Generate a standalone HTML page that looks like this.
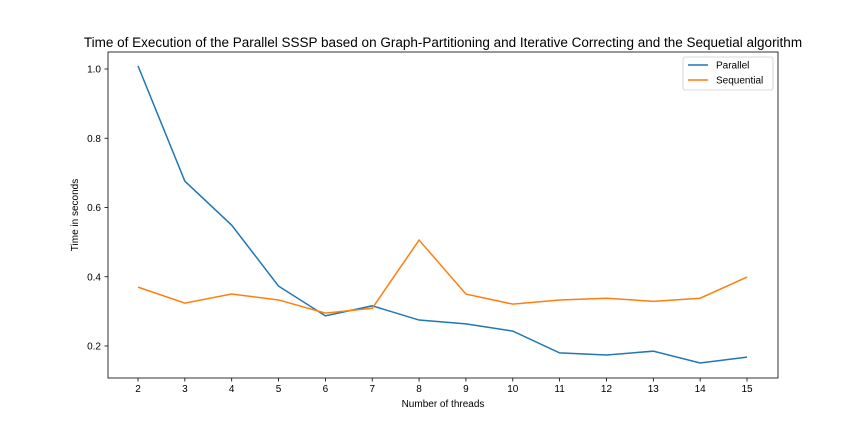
<!DOCTYPE html>
<html><head><meta charset="utf-8"><style>
html,body{margin:0;padding:0;background:#fff;}
svg{display:block;font-family:"Liberation Sans","DejaVu Sans",sans-serif;}
</style></head><body>
<svg id="chart" width="864" height="432" xmlns="http://www.w3.org/2000/svg">
<rect x="0" y="0" width="864" height="432" fill="#fff"/>
<text x="443" y="47" text-anchor="middle" font-size="13.5" fill="#000">Time of Execution of the Parallel SSSP based on Graph-Partitioning and Iterative Correcting and the Sequetial algorithm</text>
<g id="grid"></g>
<g id="series"></g>
<rect x="108" y="52" width="670" height="326" fill="none" stroke="#000" stroke-width="0.8"/>
<text x="443" y="407" text-anchor="middle" font-size="10">Number of threads</text>
<text transform="translate(78,215) rotate(-90)" text-anchor="middle" font-size="10">Time in seconds</text>
<g>
<rect x="683" y="57" width="90" height="33" fill="#fff" stroke="#ccc" stroke-width="0.8" rx="2"/>
<line x1="688" y1="65" x2="708" y2="65" stroke="#1f77b4" stroke-width="1.5"/>
<text x="716" y="68.5" font-size="10">Parallel</text>
<line x1="688" y1="80" x2="708" y2="80" stroke="#ff7f0e" stroke-width="1.5"/>
<text x="716" y="83.5" font-size="10">Sequential</text>
</g>
</svg>
<script>
const threads = [2,3,4,5,6,7,8,9,10,11,12,13,14,15];
const parallel = [1.009,0.676,0.549,0.373,0.287,0.316,0.275,0.264,0.243,0.180,0.174,0.185,0.151,0.168];
const sequential = [0.370,0.324,0.350,0.333,0.295,0.309,0.506,0.350,0.321,0.333,0.338,0.329,0.338,0.399];
const yTicks = [0.2,0.4,0.6,0.8,1.0];
const NS="http://www.w3.org/2000/svg";
function xs(v){return 138+(v-2)*(747-138)/13;}
function ys(v){return 69+(1.0-v)*346.25;}
const grid=document.getElementById('grid');
threads.forEach(t=>{
  const l=document.createElementNS(NS,'line');
  l.setAttribute('x1',xs(t));l.setAttribute('x2',xs(t));l.setAttribute('y1',378);l.setAttribute('y2',381.5);
  l.setAttribute('stroke','#000');l.setAttribute('stroke-width','0.8');
  
  
  grid.appendChild(l);
  const tx=document.createElementNS(NS,'text');
  tx.setAttribute('x',xs(t));tx.setAttribute('y',392);tx.setAttribute('text-anchor','middle');tx.setAttribute('font-size','10');
  tx.textContent=t;
  
  
  grid.appendChild(tx);
});
yTicks.forEach(v=>{
  const l=document.createElementNS(NS,'line');
  l.setAttribute('x1',104.5);l.setAttribute('x2',108);l.setAttribute('y1',ys(v));l.setAttribute('y2',ys(v));
  l.setAttribute('stroke','#000');l.setAttribute('stroke-width','0.8');
  
  
  grid.appendChild(l);
  const tx=document.createElementNS(NS,'text');
  tx.setAttribute('x',101);tx.setAttribute('y',ys(v)+3.5);tx.setAttribute('text-anchor','end');tx.setAttribute('font-size','10');
  tx.textContent=v.toFixed(1);
  
  
  grid.appendChild(tx);
});
const ser=document.getElementById('series');
function draw(vals,color,name){
  const p=document.createElementNS(NS,'polyline');
  p.setAttribute('points',threads.map((t,i)=>xs(t)+','+ys(vals[i])).join(' '));
  p.setAttribute('fill','none');p.setAttribute('stroke',color);p.setAttribute('stroke-width','1.5');
  
  
  ser.appendChild(p);
}
draw(parallel,'#1f77b4','parallel-line');
draw(sequential,'#ff7f0e','sequential-line');
</script>
</body></html>
